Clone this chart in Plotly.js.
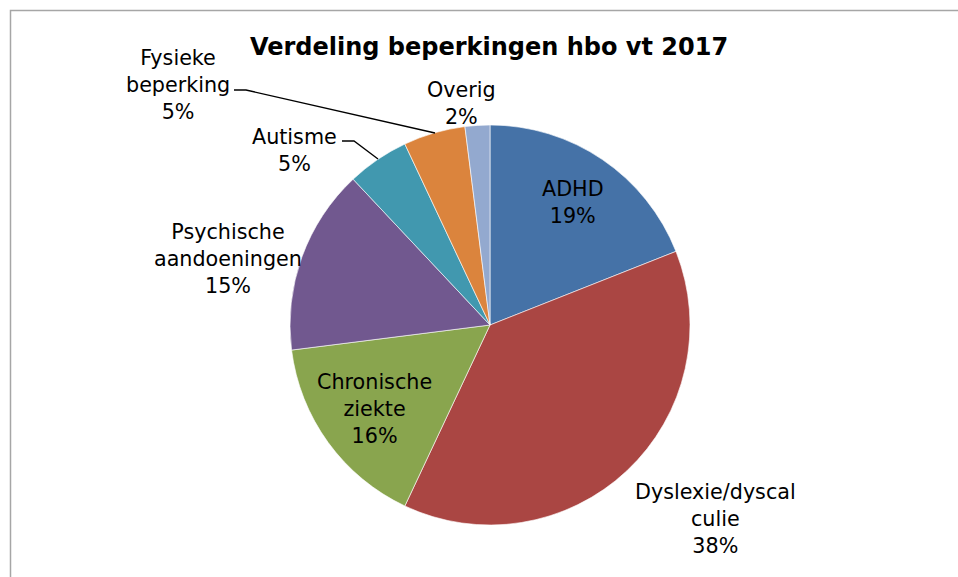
<!DOCTYPE html>
<html>
<head>
<meta charset="utf-8">
<script src="https://cdn.plot.ly/plotly-3.0.1.min.js"></script>
<style>
  html, body { margin: 0; padding: 0; background: #ffffff; }
  #chart { width: 958px; height: 577px; }
</style>
</head>
<body>
<div id="chart"></div>
<script>
// ---- data ----
var categories = ["ADHD", "Dyslexie/dyscal<br>culie", "Chronische<br>ziekte", "Psychische<br>aandoeningen", "Autisme", "Fysieke<br>beperking", "Overig"];
var values = [19, 38, 16, 15, 5, 5, 2];
var colors = ["#4572a7", "#aa4643", "#89a54e", "#71588f", "#4198af", "#db843d", "#93a9cf"];
var chartTitle = "Verdeling beperkingen hbo vt 2017";

// ---- layout helpers (pixel -> paper) ----
var W = 958, H = 577;
function px(x) { return x / W; }
function py(y) { return 1 - y / H; }

// label centre positions (pixels), one per category
var labelPos = [[573, 203], [715, 519], [374, 409], [228, 259], [294, 150], [178, 85], [461, 103]];

var total = values.reduce(function (a, b) { return a + b; }, 0);

var annotations = categories.map(function (c, i) {
  var pct = Math.round(values[i] / total * 100) + "%";
  return {
    xref: "paper", yref: "paper",
    x: px(labelPos[i][0]), y: py(labelPos[i][1]),
    xanchor: "center", yanchor: "middle",
    text: c + "<br>" + pct,
    showarrow: false,
    align: "center",
    font: { family: "Verdana, 'DejaVu Sans', sans-serif", size: 20.7, color: "#000000" }
  };
});

function path(pts) {
  return pts.map(function (p, i) { return (i ? "L" : "M") + px(p[0]) + "," + py(p[1]); }).join(" ");
}

var shapes = [
  // chart frame (top + left)
  { type: "path", xref: "paper", yref: "paper",
    path: path([[10.5, 577], [10.5, 10.5], [958, 10.5]]),
    line: { color: "#a6a6a6", width: 1.5 } },
  // leader lines
  { type: "path", xref: "paper", yref: "paper",
    path: path([[234, 90], [246, 90], [435, 133]]),
    line: { color: "#000000", width: 1.3 } },
  { type: "path", xref: "paper", yref: "paper",
    path: path([[342, 141], [354, 141], [378, 159]]),
    line: { color: "#000000", width: 1.3 } }
];

var trace = {
  type: "pie",
  labels: categories,
  values: values,
  sort: false,
  direction: "clockwise",
  rotation: 0,
  textinfo: "none",
  hoverinfo: "label+percent",
  marker: { colors: colors, line: { color: "#ffffff", width: 0.6 } },
  domain: { x: [px(290), px(690)], y: [py(525), py(125)] },
  showlegend: false
};

var layout = {
  width: W, height: H,
  margin: { l: 0, r: 0, t: 0, b: 0 },
  paper_bgcolor: "#ffffff",
  showlegend: false,
  title: {
    text: "<b>" + chartTitle + "</b>",
    x: px(489), xanchor: "center",
    y: py(47), yanchor: "middle",
    font: { family: "Verdana, 'DejaVu Sans', sans-serif", size: 24, color: "#000000" }
  },
  annotations: annotations,
  shapes: shapes
};

Plotly.newPlot("chart", [trace], layout, { displayModeBar: false, staticPlot: true });
</script>
</body>
</html>
